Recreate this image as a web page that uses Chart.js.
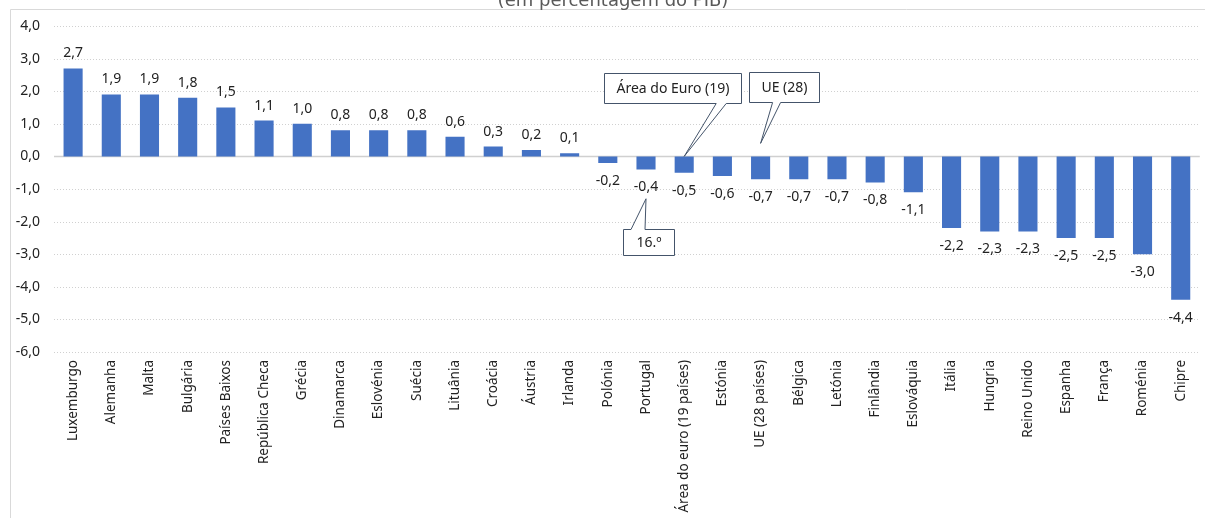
<!DOCTYPE html>
<html>
<head>
<meta charset="utf-8">
<script src="https://cdn.jsdelivr.net/npm/chart.js@4.4.1/dist/chart.umd.min.js"></script>
<style>
  html, body { margin: 0; padding: 0; background: #fff; }
  #wrap { width: 1205px; height: 518px; position: relative; }
</style>
</head>
<body>
<div id="wrap"><canvas id="c" width="1205" height="518"></canvas></div>
<script>
// Saldo orçamental por país (em percentagem do PIB)
const countries = [
  'Luxemburgo', 'Alemanha', 'Malta', 'Bulgária', 'Países Baixos', 'República Checa',
  'Grécia', 'Dinamarca', 'Eslovénia', 'Suécia', 'Lituânia', 'Croácia', 'Áustria',
  'Irlanda', 'Polónia', 'Portugal', 'Área do euro (19 países)', 'Estónia',
  'UE (28 países)', 'Bélgica', 'Letónia', 'Finlândia', 'Eslováquia', 'Itália',
  'Hungria', 'Reino Unido', 'Espanha', 'França', 'Roménia', 'Chipre'
];
const balances = [
  2.7, 1.9, 1.9, 1.8, 1.5, 1.1, 1.0, 0.8, 0.8, 0.8, 0.6, 0.3, 0.2, 0.1,
  -0.2, -0.4, -0.5, -0.6, -0.7, -0.7, -0.7, -0.8, -1.1, -2.2, -2.3, -2.3,
  -2.5, -2.5, -3.0, -4.4
];
const yTicks = { min: -6, max: 4, step: 1 };
const subtitle = '(em percentagem do PIB)';
// callouts: text, category index, value the pointer reaches
const callouts = [
  { text: 'Área do Euro (19)', index: 16, value: 0.0, box: [-80, -83, 137, 30], base: [32, 42] },
  { text: 'UE (28)', index: 18, value: 0.4, box: [-12, -71, 70, 30], base: [12, 20] },
  { text: '16.º', index: 15, value: -1.3, box: [-23, 30, 51, 26], base: [-15, -1] }
];

const fmt = v => v.toFixed(1).replace('.', ',');
const TEXT = '#222';
const FONT = '"Noto Sans", sans-serif';

const framePlugin = {
  id: 'frame',
  beforeDraw(chart) {
    const ctx = chart.ctx;
    ctx.save();
    ctx.strokeStyle = '#d9d9d9';
    ctx.lineWidth = 1;
    ctx.beginPath();
    ctx.moveTo(10.5, 518);
    ctx.lineTo(10.5, 9.5);
    ctx.lineTo(1205, 9.5);
    ctx.stroke();
    ctx.fillStyle = '#595959';
    ctx.font = '18px "DejaVu Sans", sans-serif';
    ctx.textAlign = 'center';
    ctx.textBaseline = 'alphabetic';
    ctx.fillText(subtitle, 613, 6);
    ctx.restore();
  },
  beforeDatasetsDraw(chart) {
    const { ctx, chartArea, scales } = chart;
    const y = scales.y;
    ctx.save();
    y.ticks.forEach(t => {
      const py = Math.round(y.getPixelForValue(t.value)) + 0.5;
      ctx.beginPath();
      if (t.value === 0) {
        ctx.setLineDash([]);
        ctx.strokeStyle = '#d0d0d0';
        ctx.lineWidth = 1.5;
      } else {
        ctx.setLineDash([1, 2]);
        ctx.strokeStyle = '#d0d0d0';
        ctx.lineWidth = 1;
      }
      ctx.moveTo(chartArea.left, py);
      ctx.lineTo(chartArea.right, py);
      ctx.stroke();
    });
    ctx.restore();
  },
  afterDatasetsDraw(chart) {
    const { ctx, scales } = chart;
    const meta = chart.getDatasetMeta(0);
    ctx.save();
    ctx.fillStyle = TEXT;
    ctx.font = '14px ' + FONT;
    ctx.textAlign = 'center';
    ctx.textBaseline = 'middle';
    meta.data.forEach((bar, i) => {
      const v = balances[i];
      const yy = v >= 0 ? bar.y - 15 : bar.y + 18;
      ctx.fillText(fmt(v), bar.x, yy);
    });
    // callouts
    callouts.forEach(c => {
      const tx = scales.x.getPixelForValue(c.index);
      const ty = scales.y.getPixelForValue(c.value);
      const [dx, dy, w, h] = c.box;
      const bx = Math.round(tx + dx) + 0.5, by = Math.round(ty + dy) + 0.5;
      const above = dy < 0;
      const edgeY = above ? by + h : by;
      ctx.beginPath();
      ctx.moveTo(bx, by);
      if (above) {
        ctx.lineTo(bx + w, by);
        ctx.lineTo(bx + w, by + h);
        ctx.lineTo(tx + c.base[1], edgeY);
        ctx.lineTo(tx, ty);
        ctx.lineTo(tx + c.base[0], edgeY);
        ctx.lineTo(bx, by + h);
      } else {
        ctx.lineTo(tx + c.base[0], edgeY);
        ctx.lineTo(tx, ty);
        ctx.lineTo(tx + c.base[1], edgeY);
        ctx.lineTo(bx + w, by);
        ctx.lineTo(bx + w, by + h);
        ctx.lineTo(bx, by + h);
      }
      ctx.closePath();
      ctx.fillStyle = '#fff';
      ctx.fill();
      ctx.strokeStyle = '#44546a';
      ctx.lineWidth = 1;
      ctx.stroke();
      ctx.fillStyle = TEXT;
      ctx.fillText(c.text, bx + w / 2, by + h / 2 + 1);
    });
    ctx.restore();
  }
};

new Chart(document.getElementById('c'), {
  type: 'bar',
  data: {
    labels: countries,
    datasets: [{
      data: balances,
      backgroundColor: '#4472c4',
      borderWidth: 0,
      barPercentage: 0.5,
      categoryPercentage: 1.0
    }]
  },
  options: {
    responsive: false,
    animation: false,
    events: [],
    layout: { padding: { left: 0, right: 5, top: 26, bottom: 0 } },
    plugins: { legend: { display: false }, tooltip: { enabled: false } },
    scales: {
      x: {
        grid: { display: false, drawTicks: false },
        border: { display: false },
        ticks: {
          color: TEXT,
          font: { family: FONT, size: 13.5 },
          minRotation: 90,
          maxRotation: 90,
          autoSkip: false,
          padding: 8
        },
        afterFit(s) { s.height = 166; }
      },
      y: {
        min: yTicks.min,
        max: yTicks.max,
        grid: { display: false, drawTicks: false },
        border: { display: false },
        ticks: {
          stepSize: yTicks.step,
          color: TEXT,
          font: { family: FONT, size: 14 },
          padding: 14,
          callback: v => fmt(v)
        },
        afterFit(s) { s.width = 54; }
      }
    }
  },
  plugins: [framePlugin]
});
</script>
</body>
</html>
